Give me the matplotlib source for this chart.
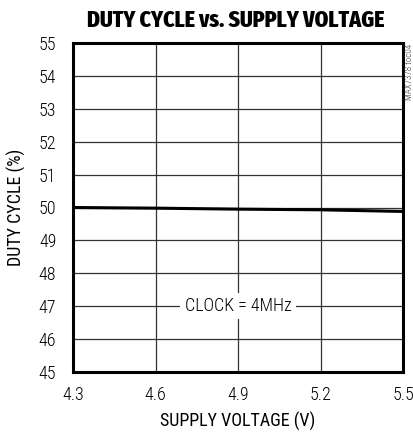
import matplotlib
matplotlib.use("Agg")
import matplotlib.pyplot as plt
from matplotlib import font_manager

names = {f.name for f in font_manager.fontManager.ttflist}
def pick(cands):
    for c in cands:
        if c in names:
            return c
    return "DejaVu Sans"
body = pick(["Roboto Condensed", "Archivo Narrow", "Fira Sans Condensed", "Asap Condensed"])
head = pick(["Fira Sans Extra Condensed", "Barlow Condensed", "Roboto Condensed"])
plt.rcParams['font.family'] = [body, 'DejaVu Sans']
plt.rcParams['font.weight'] = 300

voltage = [4.3, 4.6, 4.9, 5.2, 5.5]
duty = [50.0, 49.98, 49.95, 49.93, 49.88]
xticks = [4.3, 4.6, 4.9, 5.2, 5.5]
yticks = [45, 46, 47, 48, 49, 50, 51, 52, 53, 54, 55]

fig = plt.figure(figsize=(4.13, 4.34), dpi=100)
ax = fig.add_axes([73/413, 1-372/434, 330/413, 329/434])
ax.plot(voltage, duty, color='black', lw=2.2)
ax.set_xlim(4.3, 5.5)
ax.set_ylim(45, 55)
ax.set_xticks(xticks)
ax.set_xticklabels([f"{v:.1f}" for v in xticks])
ax.set_yticks(yticks)
ax.grid(True, color='#333333', lw=0.9)
ax.tick_params(axis='x', length=0, labelsize=13, pad=10)
ax.tick_params(axis='y', length=0, labelsize=13, pad=12)
for s in ax.spines.values():
    s.set_linewidth(2.2)
ax.set_xlabel("SUPPLY VOLTAGE (V)", fontsize=13, labelpad=6)
ax.set_ylabel("DUTY CYCLE (%)", fontsize=13, labelpad=9)
fig.text(236/413, 1-20/434, "DUTY CYCLE vs. SUPPLY VOLTAGE", ha='center', va='center',
         fontsize=17, fontweight='heavy', family=[head, 'DejaVu Sans'])
ax.text(4.9, 47, "CLOCK = 4MHz", ha='center', va='center', fontsize=13,
        bbox=dict(facecolor='white', edgecolor='none', pad=3))
fig.text(405/413, 1-44/434, "MAX7378 toc04", rotation=90, ha='left', va='top',
         fontsize=6.5, color='#333333')
fig.savefig("out.png", dpi=100)
